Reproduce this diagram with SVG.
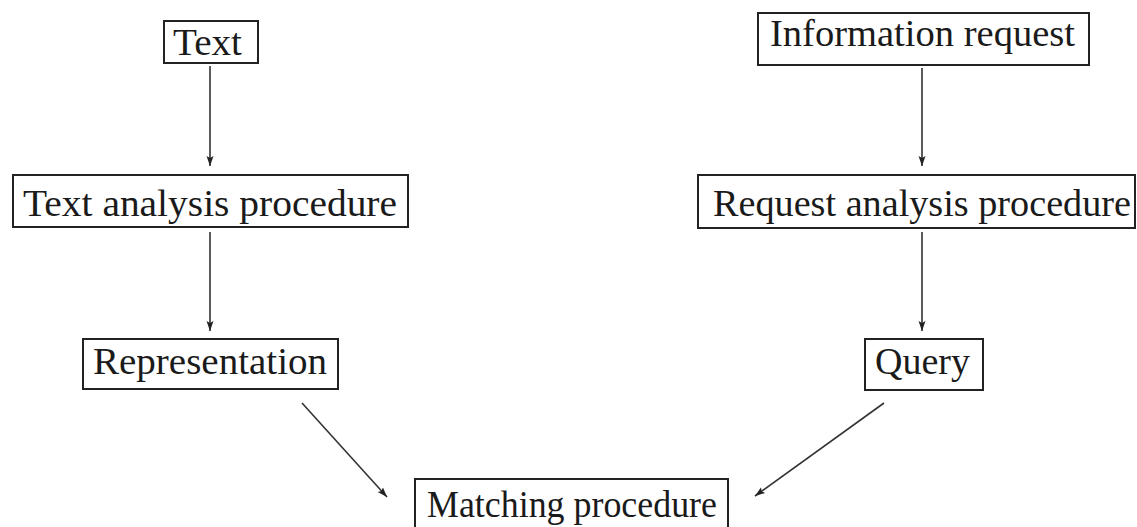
<svg xmlns="http://www.w3.org/2000/svg" width="1137" height="527" viewBox="0 0 1137 527">
<style>
.box{fill:#fff;stroke:#222;stroke-width:2}
.lbl{font-family:"Liberation Serif","DejaVu Serif",serif;font-size:37px;fill:#1a1a1a}
.edge{stroke:#333;stroke-width:1.6;fill:none;marker-end:url(#ah)}
</style>
<defs>
<marker id="ah" viewBox="0 0 10 10" refX="10" refY="5" markerWidth="10" markerHeight="10" markerUnits="userSpaceOnUse" orient="auto">
<path d="M0,1.5 L10,5 L0,8.5 L2,5 Z" fill="#222"/>
</marker>
</defs>
<rect width="1137" height="527" fill="#fff"/>
<g id="connectors">
<line class="edge" x1="210" y1="66" x2="210" y2="166"/>
<line class="edge" x1="210" y1="232" x2="210" y2="331"/>
<line class="edge" x1="922" y1="68" x2="922" y2="166"/>
<line class="edge" x1="922" y1="232" x2="922" y2="331"/>
<line class="edge" x1="302" y1="403" x2="387" y2="497"/>
<line class="edge" x1="884" y1="403" x2="755" y2="496"/>
</g>
<g id="n-text">
<rect class="box" x="164" y="21" width="94" height="42"/>
<text class="lbl" x="173" y="55" textLength="69" lengthAdjust="spacingAndGlyphs">Text</text>
</g>
<g id="n-text-analysis">
<rect class="box" x="13" y="175" width="395" height="52"/>
<text class="lbl" x="23" y="216" textLength="374" lengthAdjust="spacingAndGlyphs">Text analysis procedure</text>
</g>
<g id="n-representation">
<rect class="box" x="83" y="339" width="255" height="50"/>
<text class="lbl" x="93" y="374" textLength="234" lengthAdjust="spacingAndGlyphs">Representation</text>
</g>
<g id="n-info-request">
<rect class="box" x="758" y="13" width="331" height="52"/>
<text class="lbl" x="770" y="46" textLength="305" lengthAdjust="spacingAndGlyphs">Information request</text>
</g>
<g id="n-request-analysis">
<rect class="box" x="698" y="175" width="437" height="53"/>
<text class="lbl" x="713" y="216" textLength="418" lengthAdjust="spacingAndGlyphs">Request analysis procedure</text>
</g>
<g id="n-query">
<rect class="box" x="865" y="339" width="118" height="51"/>
<text class="lbl" x="875" y="374" textLength="95" lengthAdjust="spacingAndGlyphs">Query</text>
</g>
<g id="n-matching">
<rect class="box" x="415" y="479" width="313" height="60"/>
<text class="lbl" x="427" y="517" textLength="290" lengthAdjust="spacingAndGlyphs">Matching procedure</text>
</g>
</svg>
